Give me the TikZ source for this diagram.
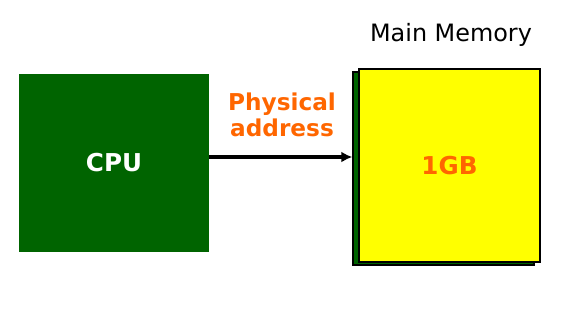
\documentclass[tikz,border=0pt]{standalone}
\usepackage{fontspec}
\setmainfont{DejaVu Sans}
\usetikzlibrary{arrows.meta,positioning}

\definecolor{cpugreen}{RGB}{0,100,0}
\definecolor{memyellow}{RGB}{255,255,0}
\definecolor{labelorange}{RGB}{255,102,0}

\begin{document}
\begin{tikzpicture}[
  every node/.style={align=center, font=\fontsize{17}{18.5}\selectfont},
  cpubox/.style={rectangle, fill=cpugreen, text=white, font=\fontsize{17.5}{18.5}\selectfont\bfseries, minimum width=4.75cm, minimum height=4.45cm},
  membox/.style={rectangle, draw=black, line width=1pt, fill=memyellow, text=labelorange, font=\fontsize{17.5}{18.5}\selectfont\bfseries, minimum width=4.525cm, minimum height=4.825cm},
  shadowbox/.style={rectangle, draw=black, line width=1pt, fill=cpugreen, minimum width=4.525cm, minimum height=4.825cm},
  tag/.style={text=labelorange, font=\fontsize{16.5}{18.5}\selectfont\bfseries},
  arrow/.style={-{Latex[length=2.75mm, width=2.75mm]}, line width=2.8pt}
]
\useasboundingbox (0,0) rectangle (14.4,7.7);

% --- CPU ---
\node[cpubox] (cpu) at (2.85, 3.625) {CPU};

% --- MAIN MEMORY (with shadow) ---
\node[shadowbox] (shadow) at (11.0875, 3.4875) {};
\node[membox] (memory) at (11.2375, 3.5625) {1GB};
\node (memtitle) at (11.275, 6.825) {Main Memory};

% --- ADDRESS BUS ---
\draw[arrow] ([yshift=0.15cm]cpu.east) -- ([yshift=0.15cm]cpu.east -| shadow.west);
\node[tag] (paddr) at (7.05, 4.825) {Physical\\address};

\end{tikzpicture}
\end{document}
